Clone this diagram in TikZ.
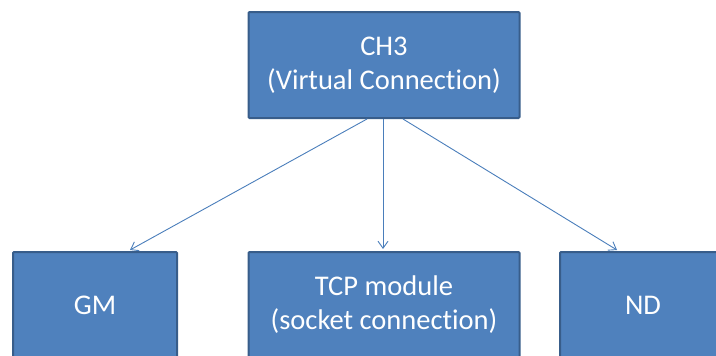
\documentclass[tikz,border=0pt]{standalone}
\usepackage{fontspec}
\setmainfont[Ligatures={NoCommon}]{Carlito}
\usetikzlibrary{arrows.meta}
\definecolor{boxfill}{HTML}{4F81BD}
\definecolor{boxedge}{HTML}{385D8A}
\definecolor{linkcol}{HTML}{4A7EBB}
\begin{document}
\begin{tikzpicture}[x=1pt,y=1pt,
  blockbox/.style={draw=boxedge, line width=2pt, fill=boxfill, text=white,
    rounded corners=1pt, minimum height=106pt, align=center,
    font=\fontsize{28.5}{34}\selectfont, inner sep=0pt},
  link/.style={draw=linkcol, line width=0.9pt, -{Straight Barb[length=7pt,width=10pt,line width=0.9pt]}}]
\useasboundingbox (0,0) rectangle (716,-356);
\clip (0,0) rectangle (716,-356);
\node[blockbox, minimum width=271pt] (ch3) at (384,-65) {CH3\\(Virtual Connection)};
\node[blockbox, minimum width=164pt] (gm) at (95,-305) {GM};
\node[blockbox, minimum width=271pt] (tcp) at (384,-305) {TCP module\\(socket connection)};
\node[blockbox, minimum width=166pt] (nd) at (643,-305) {ND};
\draw[link] ([xshift=-17pt]ch3.south) -- ([xshift=35pt,yshift=1pt]gm.north);
\draw[link] ([xshift=-1pt]ch3.south) -- ([xshift=-1pt,yshift=2pt]tcp.north);
\draw[link] ([xshift=19pt]ch3.south) -- ([xshift=-26pt,yshift=1pt]nd.north);
\end{tikzpicture}
\end{document}
